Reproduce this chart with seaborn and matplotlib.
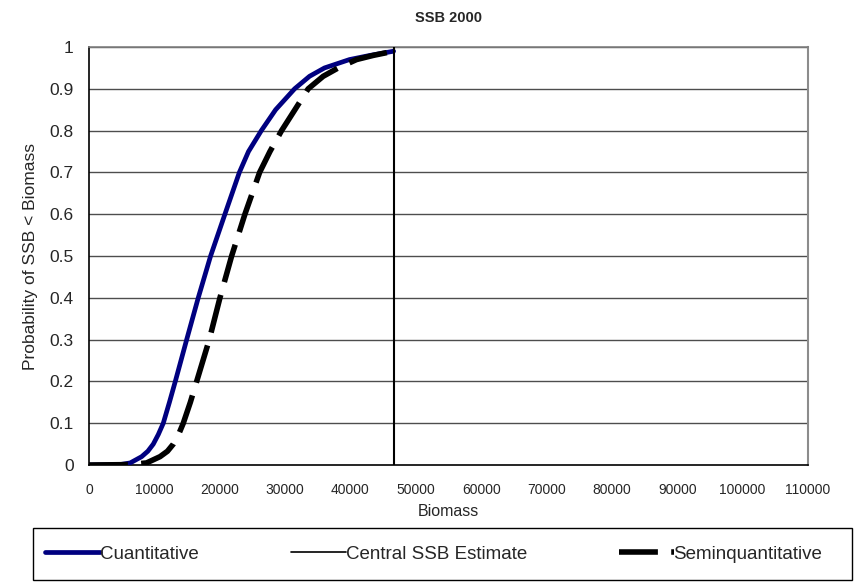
import numpy as np
import pandas as pd
import matplotlib
matplotlib.use('Agg')
import matplotlib.pyplot as plt
import seaborn as sns
from matplotlib.lines import Line2D
from matplotlib.patches import Rectangle

# cumulative probability curves
cuant_biomass = [0, 4700, 6300, 8050, 9000, 9830, 10600, 11360, 12300, 13200, 14940,
                 16710, 18600, 20790, 23000, 24400, 26360, 28550, 31450, 33740,
                 36030, 39850, 43000, 46600]
cuant_prob = [0, 0.001, 0.005, 0.02, 0.033, 0.05, 0.073, 0.1, 0.15, 0.2, 0.3,
              0.4, 0.5, 0.6, 0.7, 0.75, 0.8, 0.85, 0.9, 0.93,
              0.95, 0.97, 0.98, 0.99]

semi_biomass = [0, 6300, 8800, 10860, 12000, 12890, 13700, 14420, 15500, 16470, 18400,
                20030, 21820, 23850, 26100, 27680, 29460, 31500, 33530, 35830,
                38120, 40930, 43500, 46600]
semi_prob = [0, 0.001, 0.005, 0.02, 0.033, 0.05, 0.073, 0.1, 0.15, 0.2, 0.3,
             0.4, 0.5, 0.6, 0.7, 0.75, 0.8, 0.85, 0.9, 0.93,
             0.95, 0.97, 0.98, 0.99]

central_ssb = 46600

x_ticks = list(range(0, 110001, 10000))
y_ticks = [0, 0.1, 0.2, 0.3, 0.4, 0.5, 0.6, 0.7, 0.8, 0.9, 1]
y_labels = ['0', '0.1', '0.2', '0.3', '0.4', '0.5', '0.6', '0.7', '0.8', '0.9', '1']

sns.set_style('white')
plt.rcParams['font.family'] = ['Liberation Sans', 'DejaVu Sans']

df_c = pd.DataFrame({'Biomass': cuant_biomass, 'Prob': cuant_prob})
df_s = pd.DataFrame({'Biomass': semi_biomass, 'Prob': semi_prob})

dash = (0, (7.0, 2.4))

fig = plt.figure(figsize=(8.56, 5.82), dpi=100)
ax = fig.add_axes([0.1040, 0.2010, 0.8399, 0.7182])

# horizontal grid
for y in y_ticks[1:]:
    ax.axhline(y, color='0.3', lw=1.0, zorder=0)

sns.lineplot(data=df_c, x='Biomass', y='Prob', ax=ax, color='#000080', lw=3.4,
             sort=False, zorder=3)
sns.lineplot(data=df_s, x='Biomass', y='Prob', ax=ax, color='black', lw=4.0,
             sort=False, zorder=4, linestyle=dash)
ax.plot([central_ssb, central_ssb], [0, 1], color='black', lw=1.5, zorder=5)

ax.set_xlim(0, 110000)
ax.set_ylim(0, 1)
ax.set_xticks(x_ticks)
ax.set_xticklabels([str(t) for t in x_ticks], fontsize=10)
ax.set_yticks(y_ticks)
ax.set_yticklabels(y_labels, fontsize=12.5)
ax.tick_params(axis='x', direction='out', length=5, width=1, pad=8, color='black')
ax.tick_params(axis='y', direction='out', length=7, width=1, pad=4, color='black')

for side in ['left', 'bottom']:
    ax.spines[side].set_color('black')
    ax.spines[side].set_linewidth(1.2)
ax.spines['right'].set_color('0.55')
ax.spines['right'].set_linewidth(1.5)
ax.spines['top'].set_color('0.5')
ax.spines['top'].set_linewidth(1.2)

ax.set_xlabel('Biomass', fontsize=11.5, labelpad=5)
ax.set_ylabel('Probability of SSB < Biomass', fontsize=12.5, labelpad=8)
ax.set_title('SSB 2000', fontsize=10.5, fontweight='bold', pad=18)

# legend box below the plot
fig.patches.append(Rectangle((33 / 856, 2 / 582), 819 / 856, 52 / 582,
                             transform=fig.transFigure, fill=False,
                             edgecolor='black', lw=1.0))
handles = [
    Line2D([], [], color='#000080', lw=3.4),
    Line2D([], [], color='black', lw=1.2),
    Line2D([], [], color='black', lw=4.0, linestyle=dash),
]
labels = ['Cuantitative', 'Central SSB Estimate', 'Seminquantitative']
leg = fig.legend(handles, labels, loc='center left', ncol=3,
                 bbox_to_anchor=(45 / 856, 28 / 582),
                 fontsize=13.5, frameon=False,
                 handlelength=2.93, handletextpad=0.0, columnspacing=4.9,
                 borderpad=0, borderaxespad=0)

fig.savefig('out.png', dpi=100)
